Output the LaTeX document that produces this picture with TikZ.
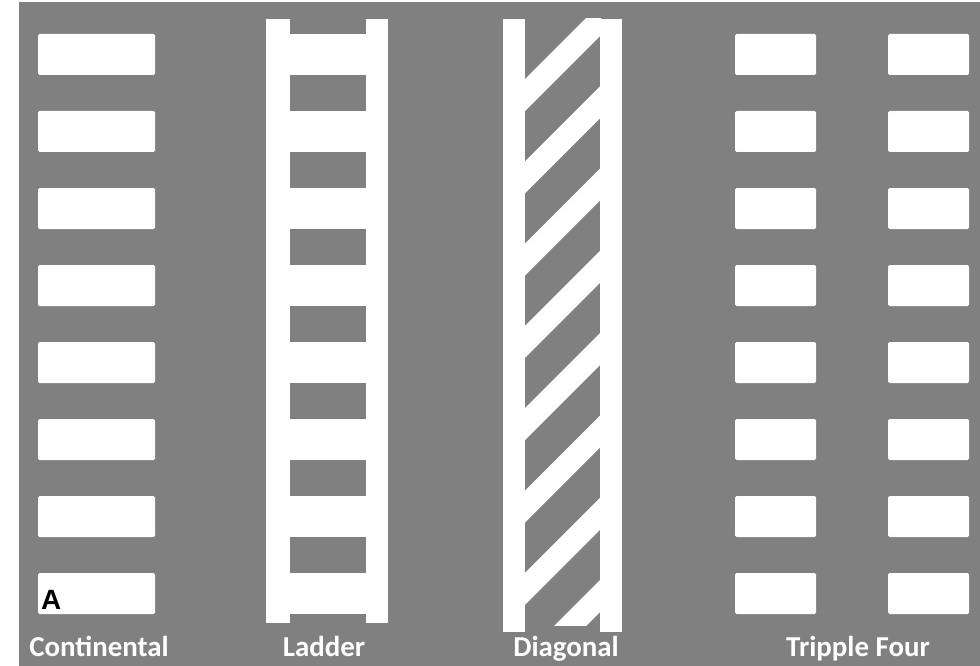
\documentclass[tikz,border=0pt]{standalone}
\usepackage{fontspec}
\setmainfont{Carlito}
\newfontfamily\arialb{Liberation Sans}
\definecolor{road}{RGB}{128,128,128}
\begin{document}
\begin{tikzpicture}[x=1bp,y=-1bp,
  paint/.style={fill=white},
  lbl/.style={text=white, font=\bfseries\fontsize{29}{29}\selectfont, anchor=base, inner sep=0pt}]
\useasboundingbox (0,0) rectangle (980,666);
\fill[white] (0,0) rectangle (980,666);
\fill[road] (19,2) rectangle (980,666);
% Continental, ladder rungs, tripple four
\foreach \k in {0,...,7} {
  \pgfmathsetmacro\yt{34+77*\k}
  \fill[paint, rounded corners=1.5bp] (38,\yt) rectangle (155,\yt+41);
  \fill[paint] (289,\yt) rectangle (367,\yt+41);
  \fill[paint, rounded corners=1.5bp] (735,\yt) rectangle (816,\yt+41);
  \fill[paint, rounded corners=1.5bp] (888,\yt) rectangle (969,\yt+41);
}
% Ladder rails
\fill[paint] (266,19) rectangle (290,623);
\fill[paint] (366,19) rectangle (388,623);
% Diagonal rails
\fill[paint] (503,19) rectangle (525,632);
\fill[paint] (600,19) rectangle (622,632);
% Diagonal stripes
\begin{scope}
  \clip (524,19) rectangle (601,625);
  \foreach \k in {0,...,7} {
    \pgfmathsetmacro\yu{80+82.3*\k}
    \fill[paint] (524,\yu) -- (601,\yu-77) -- (601,\yu-45) -- (524,\yu+32) -- cycle;
  }
\end{scope}
% Labels
\node[lbl] (lcont) at (99,656) {Continental};
\node[lbl] (lladd) at (324,656) {Ladder};
\node[lbl] (ldiag) at (566,656) {Diagonal};
\node[lbl] (ltrip) at (858,656) {Tripple Four};
\node[anchor=base west, inner sep=0pt, text=black, font=\arialb\bfseries\fontsize{28}{28}\selectfont] (la) at (41,609) {A};
\end{tikzpicture}
\end{document}
